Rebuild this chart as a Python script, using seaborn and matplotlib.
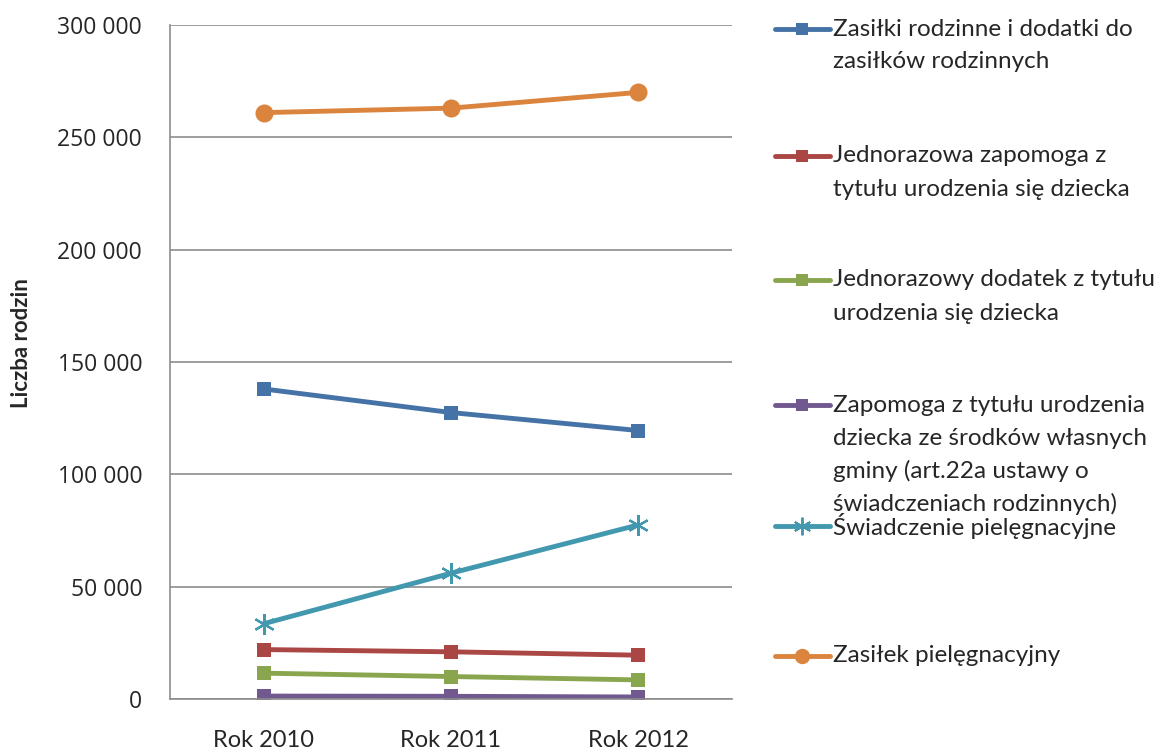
import numpy as np
import pandas as pd
import seaborn as sns
import matplotlib.pyplot as plt
from matplotlib.lines import Line2D

# data
years = ["Rok 2010", "Rok 2011", "Rok 2012"]
zasilki_rodzinne = [138000, 127500, 119500]
jednorazowa_zapomoga = [22000, 21000, 19500]
jednorazowy_dodatek = [11500, 10000, 8500]
zapomoga_gminy = [1300, 1200, 900]
swiadczenie_piel = [33500, 56000, 77500]
zasilek_piel = [261000, 263000, 270000]

labels = [
    "Zasiłki rodzinne i dodatki do\nzasiłków rodzinnych",
    "Jednorazowa zapomoga z\ntytułu urodzenia się dziecka",
    "Jednorazowy dodatek z tytułu\nurodzenia się dziecka",
    "Zapomoga z tytułu urodzenia\ndziecka ze środków własnych\ngminy (art.22a ustawy o\nświadczeniach rodzinnych)",
    "Świadczenie pielęgnacyjne",
    "Zasiłek pielęgnacyjny",
]
values = [zasilki_rodzinne, jednorazowa_zapomoga, jednorazowy_dodatek,
          zapomoga_gminy, swiadczenie_piel, zasilek_piel]
colors = ["#4572A7", "#AA4643", "#89A54E", "#71588F", "#4198AF", "#DB843D"]
markers = ["s", "s", "s", "s", (6, 2, 0), "o"]
msizes = [10.5, 10.5, 10.5, 10.5, 15, 13]

df = pd.DataFrame({
    "rok": years * len(labels),
    "seria": np.repeat(labels, len(years)),
    "liczba": np.concatenate(values),
})

sns.set_style("white")
plt.rcParams["font.family"] = ["Lato", "DejaVu Sans"]

fig = plt.figure(figsize=(11.6, 7.52), dpi=100)
ax = fig.add_axes([170 / 1160, 1 - 699 / 752, (732 - 170) / 1160, (699 - 25) / 752])

for lab, col, mk, ms in zip(labels, colors, markers, msizes):
    sub = df[df["seria"] == lab]
    sns.lineplot(data=sub, x="rok", y="liczba", ax=ax, color=col, linewidth=3.5,
                 marker=mk, markersize=ms, markeredgecolor=col,
                 markeredgewidth=1.6 if mk == (6, 2, 0) else 0)

ax.set_xlim(-0.5, 2.5)
ax.set_ylim(0, 300000)
ax.set_yticks(range(0, 300001, 50000))
ax.set_yticklabels([f"{v:,}".replace(",", " ") for v in range(0, 300001, 50000)],
                   fontsize=16.5, family="Open Sans")
ax.tick_params(axis="x", labelsize=17, pad=22, length=0)
ax.tick_params(axis="y", pad=20, length=0)
ax.yaxis.grid(True, color="#8c8c8c", linewidth=1.2)
ax.set_axisbelow(True)
for s in ["top", "right"]:
    ax.spines[s].set_visible(False)
for s in ["left", "bottom"]:
    ax.spines[s].set_color("#8c8c8c")
    ax.spines[s].set_linewidth(1.2)
ax.set_xlabel("")
ax.set_ylabel("")
fig.text(22 / 1160, 1 - 343 / 752, "Liczba rodzin", fontsize=16, fontweight="bold",
         rotation=90, ha="center", va="center")

# legend drawn by hand so that the marker sits on the first text line
entry_y = [29, 156, 280, 405, 526, 656]
W, H = 1160, 752
for lab, col, mk, ms, yp in zip(labels, colors, markers, msizes, entry_y):
    yf = 1 - yp / H
    ln = Line2D([775 / W, 802 / W, 830 / W], [yf, yf, yf], transform=fig.transFigure,
                color=col, linewidth=3.5, marker=mk, markevery=[1],
                markersize=ms * 0.85, markeredgecolor=col,
                markeredgewidth=1.4 if mk == (6, 2, 0) else 0)
    fig.add_artist(ln)
    for i, part in enumerate(lab.split("\n")):
        fig.text(833 / W, 1 - (yp + i * 33) / H, part, fontsize=17.5, va="center", ha="left")

fig.savefig("out.png", dpi=100)
